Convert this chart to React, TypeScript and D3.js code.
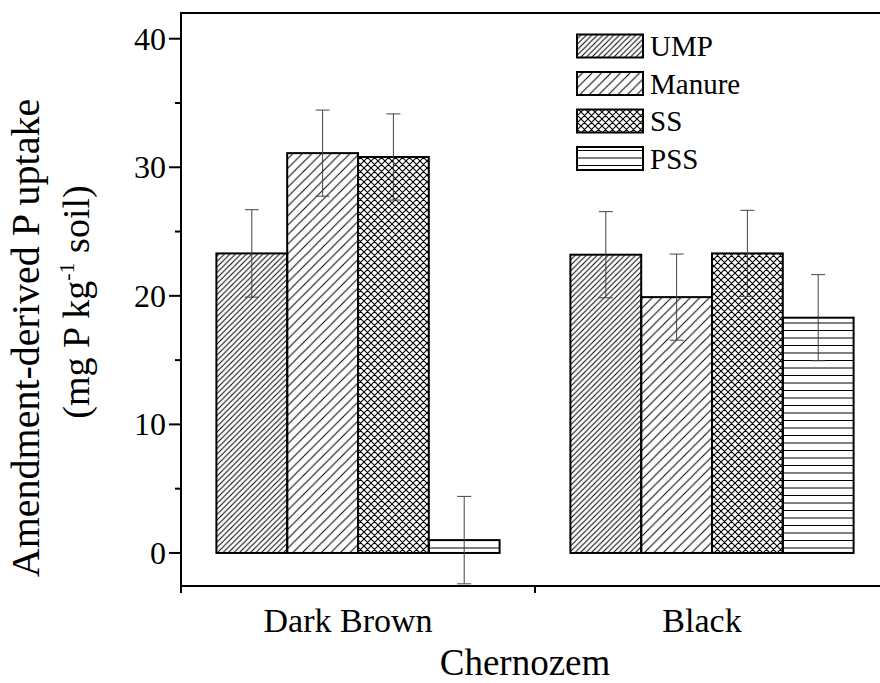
import React from "react";
import * as d3 from "d3";

const groups = ["Dark Brown", "Black"];
const series = ["UMP", "Manure", "SS", "PSS"];
const UMP = [23.3, 23.2];
const UMP_err = [3.4, 3.35];
const Manure = [31.1, 19.9];
const Manure_err = [3.35, 3.35];
const SS = [30.8, 23.3];
const SS_err = [3.35, 3.35];
const PSS = [1.0, 18.3];
const PSS_err = [3.4, 3.35];
const yTicks = [0, 10, 20, 30, 40];
const yMinor = [5, 15, 25, 35];

const values: Record<string, number[]> = { UMP, Manure, SS, PSS };
const errors: Record<string, number[]> = { UMP: UMP_err, Manure: Manure_err, SS: SS_err, PSS: PSS_err };
const patternId: Record<string, string> = { UMP: "pUMP", Manure: "pManure", SS: "pSS", PSS: "pPSS" };

const W = 880;
const H = 683;
const FONT = '"Liberation Serif", "DejaVu Serif", serif';
const tf = { fontFamily: FONT };

export default function App() {
  const left = 181;
  const top = 13;
  const bottom = 586;
  const y = d3.scaleLinear().domain([-2.57, 42]).range([bottom, top]);
  const xg = d3.scaleBand<string>().domain(groups).range([left, left + 2 * 354]).padding(0);
  const xs = d3.scaleBand<string>().domain(series).range([0, xg.bandwidth()]).paddingInner(0).paddingOuter(0.5);
  const y0 = y(0);

  const legendX = 577;
  const legendY = [46, 83.5, 121, 158.5];

  return (
    <svg width={W} height={H} style={{ position: "absolute", left: 0, top: 0, background: "#fff", fontFamily: FONT }}>
      <defs>
        <pattern id="pUMP" patternUnits="userSpaceOnUse" width={5.5} height={5.5}>
          <path d="M0,5.5 L5.5,0 M-1,1 L1,-1 M4.5,6.5 L6.5,4.5" stroke="#000" strokeWidth={1} />
        </pattern>
        <pattern id="pManure" patternUnits="userSpaceOnUse" width={9.5} height={9.5}>
          <path d="M0,9.5 L9.5,0 M-1,1 L1,-1 M8.5,10.5 L10.5,8.5" stroke="#000" strokeWidth={1} />
        </pattern>
        <pattern id="pSS" patternUnits="userSpaceOnUse" width={7} height={7}>
          <path d="M0,7 L7,0 M-1,1 L1,-1 M6,8 L8,6 M0,0 L7,7 M-1,6 L1,8 M6,-1 L8,1" stroke="#000" strokeWidth={1.1} />
        </pattern>
        <pattern id="pPSS" patternUnits="userSpaceOnUse" width={10} height={15} y={0}>
          <line x1={0} x2={10} y1={0.5} y2={0.5} stroke="#000" strokeWidth={1} />
          <line x1={0} x2={10} y1={8} y2={8} stroke="#000" strokeWidth={1} />
        </pattern>
      </defs>

      {groups.map((g, gi) =>
        series.map((s) => {
          const v = values[s][gi];
          const x0 = (xg(g) as number) + (xs(s) as number);
          const yTop = y(v);
          return (
            <rect
              key={g + s}
              x={x0}
              y={Math.min(yTop, y0)}
              width={xs.bandwidth()}
              height={Math.abs(y0 - yTop)}
              fill={`url(#${patternId[s]})`}
              stroke="#000"
              strokeWidth={2}
            />
          );
        })
      )}

      {groups.map((g, gi) =>
        series.map((s) => {
          const v = values[s][gi];
          const e = errors[s][gi];
          const cx = (xg(g) as number) + (xs(s) as number) + xs.bandwidth() / 2;
          return (
            <g key={"e" + g + s} stroke="#444" strokeWidth={1}>
              <line x1={cx} x2={cx} y1={y(v + e)} y2={y(v - e)} />
              <line x1={cx - 7} x2={cx + 7} y1={y(v + e)} y2={y(v + e)} />
              <line x1={cx - 7} x2={cx + 7} y1={y(v - e)} y2={y(v - e)} />
            </g>
          );
        })
      )}

      <line x1={left} x2={W + 10} y1={top} y2={top} stroke="#000" strokeWidth={2} />
      <line x1={left} x2={left} y1={top - 1} y2={bottom + 7} stroke="#000" strokeWidth={2} />
      <line x1={left - 1} x2={W + 10} y1={bottom} y2={bottom} stroke="#000" strokeWidth={2} />
      {[...groups.map((g) => xg(g) as number), (xg(groups[1]) as number) + xg.bandwidth()].map((xv, i) => (
        <line key={"xt" + i} x1={xv} x2={xv} y1={bottom} y2={bottom + 7} stroke="#000" strokeWidth={2} />
      ))}
      {yTicks.map((t) => (
        <g key={"yt" + t}>
          <line x1={left - 12} x2={left} y1={y(t)} y2={y(t)} stroke="#000" strokeWidth={2} />
          <text x={left - 15} y={y(t)} dy="0.34em" textAnchor="end" fontSize={32} style={tf}>
            {t}
          </text>
        </g>
      ))}
      {yMinor.map((t) => (
        <line key={"ym" + t} x1={left - 6} x2={left} y1={y(t)} y2={y(t)} stroke="#000" strokeWidth={2} />
      ))}

      {groups.map((g) => (
        <text key={"gl" + g} x={(xg(g) as number) + xg.bandwidth() / 2 - 10} y={632} textAnchor="middle" fontSize={34} style={tf}>
          {g}
        </text>
      ))}
      <text x={525} y={675} textAnchor="middle" fontSize={37} style={tf}>
        Chernozem
      </text>

      <text transform="translate(39,338) rotate(-90)" textAnchor="middle" fontSize={40} style={tf}>
        Amendment-derived P uptake
      </text>
      <text transform="translate(89,302) rotate(-90)" textAnchor="middle" fontSize={38} style={tf}>
        (mg P kg<tspan fontSize={22} dy={-15}>-1</tspan>
        <tspan dy={15}> soil)</tspan>
      </text>

      {series.map((s, i) => (
        <g key={"lg" + s}>
          <rect x={legendX} y={legendY[i] - 11.5} width={66} height={23} fill={`url(#${patternId[s]})`} stroke="#000" strokeWidth={2} />
          <text x={legendX + 73} y={legendY[i]} dy="0.35em" fontSize={29} style={tf}>
            {s}
          </text>
        </g>
      ))}
    </svg>
  );
}
